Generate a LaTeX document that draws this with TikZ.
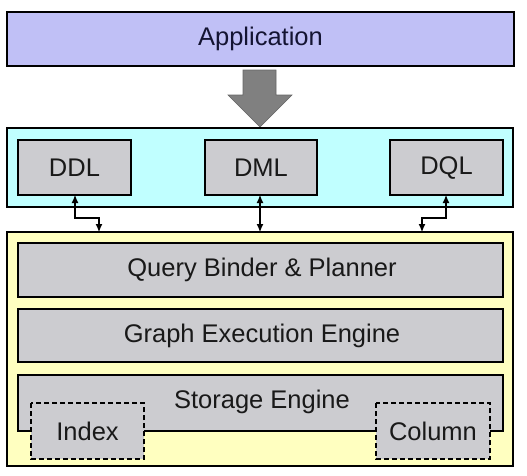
\documentclass[tikz,border=0pt]{standalone}
\usepackage{fontspec}
\setmainfont{Liberation Sans}
\usetikzlibrary{arrows.meta}
\definecolor{appfill}{RGB}{192,192,246}
\definecolor{cyanfill}{RGB}{192,255,255}
\definecolor{yelfill}{RGB}{255,255,192}
\definecolor{boxfill}{RGB}{204,204,208}
\definecolor{arrfill}{RGB}{128,128,128}
\definecolor{apptext}{RGB}{20,20,50}
\begin{document}
\begin{tikzpicture}[x=1pt,y=-1pt,
  panel/.style={draw=black,line width=1.1pt},
  gbox/.style={draw=black,line width=1.1pt,fill=boxfill},
  lbl/.style={font=\fontsize{25.5}{30}\selectfont,inner sep=0pt,text=black!90},
  conn/.style={line width=1.1pt,{Latex[length=8pt,width=7pt]}-{Latex[length=8pt,width=7pt]}}]
\useasboundingbox (0,0) rectangle (527,475);
% application
\draw[panel,fill=appfill] (7,12) rectangle (514,66);
\node[lbl,text=apptext] (app) at (260.5,39) {Application};
% big arrow
\draw[draw=black!60,fill=arrfill,line width=0.6pt] (243,70) -- (276,70) -- (276,95) -- (292,95) -- (260,127) -- (228,95) -- (243,95) -- cycle;
% cyan panel
\draw[panel,fill=cyanfill] (7,128) rectangle (513,207);
\draw[gbox] (18,140) rectangle (131,195);
\draw[gbox] (205,140) rectangle (317,195);
\draw[gbox] (390,140) rectangle (503,195);
\node[lbl] (ddl) at (74.5,167.5) {DDL};
\node[lbl] (dml) at (261,168) {DML};
\node[lbl] (dql) at (446.5,167.5) {DQL};
\coordinate (ddlb) at (75,195);
\coordinate (dmlb) at (260,195);
\coordinate (dqlb) at (446,195);
% yellow panel
\draw[panel,fill=yelfill] (7,232) rectangle (513,466);
\coordinate (ddlt) at (99,232);
\coordinate (dmlt) at (260,232);
\coordinate (dqlt) at (422,232);
\draw[gbox] (18,243) rectangle (503,297);
\node[lbl] (qbp) at (262,270) {Query Binder \& Planner};
\draw[gbox] (18,309) rectangle (503,362);
\node[lbl] (gee) at (262,335.5) {Graph Execution Engine};
\draw[gbox] (18,375) rectangle (503,431);
\node[lbl] (se) at (262,402) {Storage Engine};
\draw[gbox,dashed,dash pattern=on 5pt off 3pt] (31,403) rectangle (144,459);
\node[lbl] (idx) at (87.5,431) {Index};
\draw[gbox,dashed,dash pattern=on 5pt off 3pt] (376,403) rectangle (490,459);
\node[lbl] (col) at (433,431) {Column};
% connectors
\draw[conn] (ddlb) -- (75,218) -- (99,218) -- (ddlt);
\draw[conn] (dmlb) -- (dmlt);
\draw[conn] (dqlb) -- (446,218) -- (422,218) -- (dqlt);
\end{tikzpicture}
\end{document}
